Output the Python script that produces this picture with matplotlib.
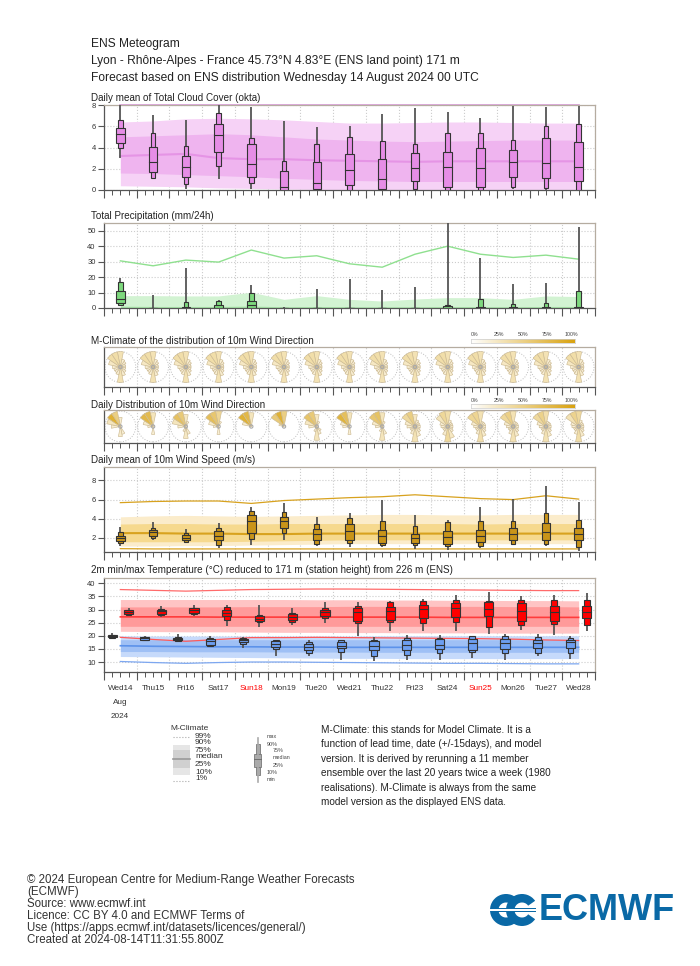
import numpy as np
import matplotlib.pyplot as plt
from matplotlib.patches import Rectangle, Polygon, Circle, Wedge
from matplotlib.colors import to_rgb

plt.rcParams['font.family'] = ['Liberation Sans', 'DejaVu Sans']

# ------------------ DATA ------------------
day_labels = ['Wed14', 'Thu15', 'Fri16', 'Sat17', 'Sun18', 'Mon19', 'Tue20', 'Wed21',
              'Thu22', 'Fri23', 'Sat24', 'Sun25', 'Mon26', 'Tue27', 'Wed28']

# total cloud cover (okta), ENS distribution per day
cc_max = [8.0, 7.06, 6.59, 8.0, 7.78, 6.52, 5.96, 6.02, 7.12, 7.69, 7.37, 6.81, 7.9, 7.78, 7.9]
cc_p90 = [6.59, 5.33, 4.17, 7.28, 4.86, 2.73, 4.3, 5.02, 4.64, 4.3, 5.4, 5.33, 4.7, 6.02, 6.21]
cc_p75 = [5.8, 4.0, 3.2, 6.21, 4.3, 1.82, 2.67, 3.36, 2.89, 3.51, 3.58, 3.92, 3.76, 4.86, 4.55]
cc_med = [5.24, 2.67, 2.13, 5.18, 2.42, 0.31, 0.69, 1.85, 1.07, 2.1, 2.13, 2.07, 2.6, 2.5, 2.13]
cc_p25 = [4.39, 1.66, 1.25, 3.58, 1.25, 0.0, 0.07, 0.47, 0.1, 0.85, 0.25, 0.25, 1.19, 1.16, 0.85]
cc_p10 = [3.92, 1.16, 0.53, 2.26, 0.63, 0.0, 0.0, 0.0, 0.0, 0.06, 0.0, 0.0, 0.31, 0.22, 0.0]
cc_min = [2.98, 1.1, 0.1, 1.0, 0.1, 0.0, 0.0, 0.0, 0.0, 0.0, 0.0, 0.0, 0.05, 0.0, 0.0]
# cloud cover M-climate
cc_c99 = [8.0] * 15
cc_c90 = [6.4, 6.5, 6.7, 6.75, 6.7, 6.6, 6.45, 6.3, 6.3, 6.35, 6.4, 6.4, 6.35, 6.3, 6.3]
cc_c75 = [5.0, 5.1, 5.2, 5.3, 5.2, 5.0, 4.8, 4.7, 4.6, 4.55, 4.6, 4.65, 4.7, 4.7, 4.7]
cc_c50 = [3.2, 3.3, 3.4, 3.0, 2.9, 2.9, 2.8, 2.75, 2.7, 2.65, 2.7, 2.7, 2.7, 2.7, 2.7]
cc_c25 = [1.6, 1.55, 1.45, 1.35, 1.25, 1.1, 1.0, 0.9, 0.85, 0.8, 0.8, 0.8, 0.8, 0.8, 0.8]
cc_c10 = [0.4, 0.35, 0.3, 0.2, 0.15, 0.1, 0.05, 0.0, 0.0, 0.0, 0.0, 0.0, 0.0, 0.0, 0.0]

# total precipitation (mm/24h)
tp_max = [19.7, 8.4, 26.2, 5.2, 15.0, 0.9, 12.3, 18.8, 11.7, 13.8, 60.0, 32.3, 15.8, 16.2, 52.4]
tp_p90 = [16.5, 0.3, 4.1, 4.5, 9.5, 0.2, 0.2, 0.2, 0.2, 0.3, 2.0, 5.6, 2.8, 3.5, 11.0]
tp_p75 = [11.0, 0.1, 0.6, 1.8, 4.5, 0.05, 0.05, 0.05, 0.05, 0.1, 1.0, 0.6, 0.6, 0.6, 0.8]
tp_med = [5.8, 0.0, 0.1, 0.3, 2.2, 0.0, 0.0, 0.0, 0.0, 0.0, 0.2, 0.0, 0.0, 0.0, 0.1]
tp_p25 = [3.0, 0.0, 0.0, 0.0, 0.2, 0.0, 0.0, 0.0, 0.0, 0.0, 0.0, 0.0, 0.0, 0.0, 0.0]
tp_p10 = [2.0, 0.0, 0.0, 0.0, 0.0, 0.0, 0.0, 0.0, 0.0, 0.0, 0.0, 0.0, 0.0, 0.0, 0.0]
tp_min = [1.3, 0.0, 0.0, 0.0, 0.0, 0.0, 0.0, 0.0, 0.0, 0.0, 0.0, 0.0, 0.0, 0.0, 0.0]
tp_c99 = [30.5, 27.3, 31.0, 29.7, 37.5, 32.3, 33.8, 28.6, 26.4, 34.8, 40.0, 34.8, 32.7, 34.2, 31.6]
tp_c90 = [8.0, 8.0, 7.8, 7.8, 10.2, 5.6, 8.0, 5.6, 4.5, 5.8, 6.7, 6.7, 5.6, 7.8, 7.4]
tp_c75 = [1.2, 1.0, 1.0, 1.0, 1.3, 0.8, 1.0, 0.8, 0.7, 0.8, 0.9, 0.9, 0.8, 1.0, 1.0]

# 10m wind direction frequencies, 16 sectors from N clockwise
clim_rose = [0.12, 0.04, 0.03, 0.02, 0.02, 0.02, 0.03, 0.05, 0.12, 0.04, 0.03, 0.03, 0.04, 0.08, 0.15, 0.15]
daily_rose = [
    [0.05, 0, 0, 0, 0, 0, 0, 0.04, 0.06, 0, 0, 0, 0.05, 0.10, 0.45, 0.25],
    [0.10, 0, 0, 0, 0, 0, 0, 0, 0.04, 0, 0, 0, 0.02, 0.06, 0.40, 0.38],
    [0.08, 0.02, 0, 0, 0, 0, 0, 0.04, 0.08, 0.02, 0, 0, 0.04, 0.10, 0.34, 0.28],
    [0.20, 0.02, 0, 0, 0, 0, 0, 0, 0.04, 0, 0, 0, 0.02, 0.06, 0.36, 0.30],
    [0.10, 0, 0, 0, 0, 0, 0, 0, 0, 0, 0, 0, 0, 0.05, 0.45, 0.40],
    [0.25, 0, 0, 0, 0, 0, 0, 0, 0, 0, 0, 0, 0, 0.02, 0.28, 0.45],
    [0.08, 0.02, 0, 0, 0, 0, 0.02, 0.04, 0.10, 0.02, 0, 0, 0.04, 0.08, 0.32, 0.28],
    [0.10, 0, 0, 0, 0, 0, 0, 0, 0.04, 0, 0, 0, 0.03, 0.05, 0.43, 0.35],
    [0.10, 0.02, 0, 0, 0, 0, 0, 0.04, 0.10, 0.02, 0, 0, 0.03, 0.06, 0.30, 0.33],
    [0.08, 0.03, 0.02, 0.02, 0.02, 0.02, 0.03, 0.06, 0.12, 0.04, 0.02, 0.02, 0.04, 0.06, 0.18, 0.25],
    [0.15, 0.03, 0.02, 0.02, 0.02, 0.02, 0.03, 0.08, 0.18, 0.05, 0.02, 0.02, 0.03, 0.04, 0.10, 0.19],
    [0.12, 0.02, 0.02, 0.02, 0.02, 0.02, 0.03, 0.06, 0.14, 0.04, 0.02, 0.02, 0.03, 0.05, 0.20, 0.21],
    [0.12, 0.02, 0.02, 0.02, 0.02, 0.02, 0.03, 0.06, 0.12, 0.04, 0.02, 0.02, 0.03, 0.05, 0.19, 0.24],
    [0.14, 0.02, 0.02, 0.02, 0.02, 0.02, 0.03, 0.06, 0.12, 0.04, 0.02, 0.02, 0.03, 0.05, 0.18, 0.23],
    [0.18, 0.03, 0.02, 0.02, 0.02, 0.02, 0.03, 0.06, 0.15, 0.04, 0.02, 0.02, 0.03, 0.04, 0.12, 0.22],
]
cbar_labels = ['0%', '25%', '50%', '75%', '100%']

# 10m wind speed (m/s)
ws_max = [3.09, 3.68, 2.88, 3.51, 5.26, 5.68, 4.21, 4.63, 5.97, 4.39, 3.86, 5.2, 6.07, 7.44, 5.79]
ws_p90 = [2.57, 2.99, 2.53, 3.02, 4.81, 4.74, 3.44, 4.04, 3.76, 3.26, 3.68, 3.76, 3.76, 4.56, 3.86]
ws_p75 = [2.21, 2.81, 2.28, 2.67, 4.39, 4.14, 2.92, 3.41, 2.81, 2.36, 2.71, 2.81, 2.99, 3.51, 3.05]
ws_med = [1.97, 2.57, 2.04, 2.21, 3.76, 3.72, 2.46, 2.71, 2.21, 2.0, 2.14, 2.18, 2.39, 2.64, 2.46]
ws_p25 = [1.68, 2.25, 1.76, 1.76, 2.53, 3.05, 1.83, 1.83, 1.47, 1.47, 1.4, 1.58, 1.76, 1.76, 1.76]
ws_p10 = [1.47, 2.04, 1.54, 1.3, 1.93, 2.53, 1.4, 1.47, 1.23, 1.23, 1.16, 1.19, 1.4, 1.4, 1.05]
ws_min = [1.16, 1.83, 1.47, 0.95, 1.3, 1.83, 1.2, 1.05, 1.05, 0.81, 0.77, 0.98, 1.33, 1.12, 0.63]
ws_c99 = [5.68, 5.8, 5.85, 5.85, 5.6, 5.9, 6.05, 6.2, 6.3, 6.5, 6.3, 6.1, 6.0, 6.4, 6.05]
ws_c90 = [4.2, 4.3, 4.35, 4.3, 4.25, 4.3, 4.35, 4.4, 4.45, 4.45, 4.4, 4.4, 4.45, 4.45, 4.45]
ws_c75 = [3.45, 3.5, 3.5, 3.45, 3.45, 3.5, 3.5, 3.5, 3.5, 3.5, 3.5, 3.45, 3.5, 3.5, 3.5]
ws_c50 = [2.5, 2.5, 2.45, 2.45, 2.4, 2.4, 2.45, 2.45, 2.45, 2.45, 2.45, 2.45, 2.45, 2.45, 2.45]
ws_c25 = [1.6, 1.6, 1.6, 1.6, 1.65, 1.7, 1.75, 1.8, 1.8, 1.8, 1.8, 1.8, 1.8, 1.8, 1.8]
ws_c10 = [1.15, 1.15, 1.2, 1.2, 1.25, 1.3, 1.35, 1.4, 1.4, 1.4, 1.4, 1.4, 1.4, 1.4, 1.4]
ws_c01 = [0.88, 0.85, 0.85, 0.85, 0.85, 0.85, 0.85, 0.85, 0.85, 0.85, 0.85, 0.85, 0.85, 0.85, 0.85]

# 2m max temperature (C)
tx_max = [30.6, 31.2, 31.6, 31.6, 31.6, 30.4, 32.8, 32.8, 33.4, 34.1, 35.7, 36.6, 35.3, 35.7, 36.4]
tx_p90 = [30.0, 30.2, 30.6, 31.0, 28.0, 28.7, 30.6, 31.2, 32.8, 33.2, 33.5, 33.2, 33.5, 33.5, 33.8]
tx_p75 = [29.8, 29.9, 30.4, 29.8, 27.4, 28.3, 30.0, 30.4, 31.0, 31.9, 32.3, 32.8, 32.3, 31.2, 31.2]
tx_med = [28.9, 29.3, 29.8, 28.7, 26.4, 27.2, 28.9, 29.1, 29.3, 30.2, 30.4, 30.2, 29.6, 28.9, 29.1]
tx_p25 = [28.3, 28.4, 28.7, 27.4, 25.5, 26.1, 27.6, 25.7, 25.9, 26.7, 27.2, 27.4, 25.7, 25.5, 26.7]
tx_p10 = [27.8, 28.0, 28.3, 25.9, 25.1, 25.2, 26.7, 24.9, 25.2, 24.9, 25.1, 23.3, 24.2, 24.4, 24.2]
tx_min = [27.4, 27.2, 27.4, 23.6, 23.2, 24.2, 24.9, 20.0, 21.9, 21.9, 21.9, 20.8, 22.3, 20.4, 21.7]
# 2m min temperature (C)
tn_max = [21.1, 19.8, 20.8, 19.8, 19.6, 18.5, 18.2, 18.5, 19.6, 20.4, 20.4, 20.0, 20.8, 20.8, 19.8]
tn_p90 = [20.4, 19.6, 19.6, 19.3, 19.2, 18.2, 17.5, 18.2, 18.5, 19.2, 19.2, 19.8, 19.8, 19.6, 19.2]
tn_p75 = [20.2, 19.4, 19.3, 18.9, 18.9, 17.9, 16.9, 17.5, 17.9, 18.3, 18.8, 18.8, 18.9, 18.5, 18.5]
tn_med = [19.8, 19.1, 18.8, 17.9, 18.3, 17.0, 15.7, 16.2, 16.2, 16.6, 16.6, 17.2, 17.2, 17.2, 17.5]
tn_p25 = [19.4, 18.5, 18.4, 16.6, 17.5, 15.7, 14.5, 15.3, 14.5, 14.7, 15.0, 14.7, 15.0, 15.3, 15.3]
tn_p10 = [19.2, 18.2, 18.0, 16.2, 17.0, 15.0, 13.4, 14.0, 12.4, 12.8, 13.4, 13.7, 13.4, 13.4, 13.4]
tn_min = [18.8, 18.0, 17.7, 15.9, 15.3, 12.2, 12.2, 10.6, 10.2, 10.9, 10.6, 11.5, 10.9, 12.2, 11.3]
# temperature M-climate
tx_c99 = [37.6, 37.3, 37.0, 37.3, 37.6, 37.7, 37.8, 37.8, 37.7, 37.6, 37.5, 37.4, 37.3, 37.2, 37.2]
tx_c90 = [33.8, 33.8, 33.8, 33.8, 33.8, 33.8, 33.7, 33.7, 33.6, 33.6, 33.5, 33.5, 33.4, 33.4, 33.3]
tx_c75 = [31.0, 31.0, 31.0, 31.0, 31.1, 31.1, 31.1, 31.2, 31.2, 31.2, 31.2, 31.2, 31.1, 31.1, 31.0]
tx_c50 = [27.2, 27.2, 27.2, 27.1, 27.1, 27.1, 27.1, 27.1, 27.1, 27.1, 27.0, 27.0, 27.0, 27.0, 27.0]
tx_c25 = [23.6, 23.6, 23.6, 23.6, 23.6, 23.6, 23.6, 23.6, 23.6, 23.6, 23.6, 23.6, 23.6, 23.6, 23.6]
tx_c10 = [21.7, 21.6, 21.5, 21.5, 21.4, 21.3, 21.3, 21.2, 21.2, 21.1, 21.1, 21.1, 21.0, 21.0, 21.0]
tx_c01 = [19.4, 18.6, 17.9, 18.6, 19.3, 19.3, 19.4, 19.3, 19.2, 19.1, 19.0, 18.9, 18.7, 18.4, 18.2]
tn_c90 = [20.0, 19.9, 19.9, 19.9, 19.9, 19.9, 19.9, 19.9, 20.0, 20.0, 20.0, 20.0, 20.0, 20.0, 20.0]
tn_c75 = [18.5, 18.5, 18.5, 18.5, 18.5, 18.5, 18.5, 18.5, 18.5, 18.5, 18.5, 18.5, 18.5, 18.5, 18.5]
tn_c50 = [16.2, 16.0, 15.9, 15.8, 15.8, 15.7, 15.7, 15.6, 15.6, 15.6, 15.6, 15.6, 15.6, 15.6, 15.6]
tn_c25 = [14.0, 14.0, 13.9, 13.9, 13.9, 13.8, 13.8, 13.8, 13.7, 13.7, 13.7, 13.7, 13.7, 13.7, 13.7]
tn_c10 = [12.1, 12.0, 11.9, 11.8, 11.7, 11.6, 11.5, 11.4, 11.4, 11.3, 11.3, 11.3, 11.3, 11.3, 11.3]
tn_c01 = [10.2, 9.8, 9.5, 9.8, 10.0, 10.0, 9.9, 9.8, 9.7, 9.6, 9.5, 9.5, 9.4, 9.3, 9.3]

header = ['ENS Meteogram',
          'Lyon - Rhône-Alpes - France 45.73°N 4.83°E (ENS land point) 171 m',
          'Forecast based on ENS distribution Wednesday 14 August 2024 00 UTC']
mclim_text = ['M-Climate: this stands for Model Climate. It is a',
              'function of lead time, date (+/-15days), and model',
              'version. It is derived by rerunning a 11 member',
              'ensemble over the last 20 years twice a week (1980',
              'realisations). M-Climate is always from the same',
              'model version as the displayed ENS data.']
footer = ['© 2024 European Centre for Medium-Range Weather Forecasts',
          '(ECMWF)',
          'Source: www.ecmwf.int',
          'Licence: CC BY 4.0 and ECMWF Terms of',
          'Use (https://apps.ecmwf.int/datasets/licences/general/)',
          'Created at 2024-08-14T11:31:55.800Z']

# ------------------ FIGURE ------------------
W, H = 700, 966
fig = plt.figure(figsize=(W / 100, H / 100), dpi=100)

# overlay in pixel coordinates for texts, legend, logo
ov = fig.add_axes([0, 0, 1, 1])
ov.set_xlim(0, W)
ov.set_ylim(H, 0)
ov.axis('off')

n = len(day_labels)
noon = np.arange(n) + 0.5


def px_axes(l, t, r, b):
    return fig.add_axes([l / W, 1 - b / H, (r - l) / W, (b - t) / H])


def style(ax, ylim, yticks=None):
    ax.set_xlim(0, 15)
    ax.set_ylim(*ylim)
    ax.set_xticks(np.arange(0, 16))
    ax.set_xticks(np.arange(0, 15.01, 0.25), minor=True)
    ax.tick_params(axis='x', which='major', length=6, width=0.8, color='#555555', labelbottom=False)
    ax.tick_params(axis='x', which='minor', length=3.5, width=0.7, color='#555555')
    ax.grid(axis='x', which='major', color='#cccccc', ls=':', lw=0.8)
    if yticks is None:
        ax.set_yticks([])
    else:
        ax.set_yticks(yticks)
        ax.tick_params(axis='y', length=4, width=0.8, color='#555555', labelsize=5.5,
                       labelcolor='#333333', pad=2)
        ax.grid(axis='y', color='#cccccc', ls=':', lw=0.8)
    ax.set_axisbelow(True)
    for s in ['top', 'right']:
        ax.spines[s].set_color('#b5aca0')
    for s in ['left', 'bottom']:
        ax.spines[s].set_color('#555555')
    for s in ax.spines.values():
        s.set_linewidth(0.9)


def boxes(ax, xs, mn, p10, p25, med, p75, p90, mx, fc, wi=0.26, wo=0.14):
    for i, x in enumerate(xs):
        ax.plot([x, x], [mn[i], mx[i]], color='#555555', lw=1.3, zorder=3, solid_capstyle='butt')
        ax.add_patch(Rectangle((x - wo / 2, p10[i]), wo, p90[i] - p10[i], fc=fc, ec='#333333', lw=0.8, zorder=4))
        ax.add_patch(Rectangle((x - wi / 2, p25[i]), wi, p75[i] - p25[i], fc=fc, ec='#333333', lw=0.8, zorder=5))
        ax.plot([x - wi / 2, x + wi / 2], [med[i], med[i]], color='#333333', lw=0.8, zorder=6)


def panel_title(y, txt):
    ov.text(91, y, txt, fontsize=7.15, color='#222222', va='center', ha='left')


# header
for i, line in enumerate(header):
    ov.text(91, 44 + i * 17, line, fontsize=8.65, color='#222222', va='center', ha='left')

# ---- cloud cover ----
ax1 = px_axes(104, 105, 595, 190)
style(ax1, (0, 8), [0, 2, 4, 6, 8])
ax1.fill_between(noon, cc_c10, cc_c90, color='#f6d2f6', lw=0, zorder=1)
ax1.fill_between(noon, cc_c25, cc_c75, color='#efb4ef', lw=0, zorder=1)
ax1.plot(noon, cc_c50, color='#e594e5', lw=1.5, zorder=2)
ax1.plot(noon, cc_c99, color='#d99ad9', lw=1.2, zorder=2, clip_on=False)
boxes(ax1, noon, cc_min, cc_p10, cc_p25, cc_med, cc_p75, cc_p90, cc_max, '#e68de6')
panel_title(98, 'Daily mean of Total Cloud Cover (okta)')

# ---- precipitation ----
ax2 = px_axes(104, 223, 595, 308)
style(ax2, (0, 55), [0, 10, 20, 30, 40, 50])
ax2.fill_between(noon, 0, tp_c90, color='#d2f3d2', lw=0, zorder=1)
ax2.fill_between(noon, 0, tp_c75, color='#a9e8a9', lw=0, zorder=1)
ax2.plot(noon, tp_c99, color='#8fe08f', lw=1.0, zorder=2)
boxes(ax2, noon, tp_min, tp_p10, tp_p25, tp_med, tp_p75, tp_p90, tp_max, '#7ed97e')
panel_title(216, 'Total Precipitation (mm/24h)')

# ---- wind roses ----
gold = np.array(to_rgb('#d9a20f'))


def rose_color(f):
    t = min(1.0, 1.6 * f + 0.12)
    return tuple(1 - t * (1 - gold))


def draw_roses(ax, freqs_per_day, R):
    for i, x in enumerate(noon):
        ax.add_patch(Circle((x, 0), R, fill=False, ec='#bdbdbd', ls=':', lw=0.7, zorder=2))
        fr = freqs_per_day[i]
        for k, f in enumerate(fr):
            if f <= 0:
                continue
            r = R * min(1.0, f / 0.12) ** 0.6
            a = np.radians(np.linspace(k * 22.5 - 11.25, k * 22.5 + 11.25, 9))
            pts = [(x, 0)] + [(x + r * np.sin(t), r * np.cos(t)) for t in a]
            ax.add_patch(Polygon(pts, closed=True, fc=rose_color(f), ec='#cdbb94', lw=0.45, zorder=3))
        ax.add_patch(Circle((x, 0), 0.05, fill=False, ec='#aaaaaa', lw=0.8, zorder=4))


def colorbar(l, t, r, b, ytxt):
    cax = px_axes(l, t, r, b)
    grad = np.linspace(0, 1, 256)
    cols = np.array([1 - g * (1 - gold) for g in grad])[None, :, :]
    cax.imshow(cols, aspect='auto', extent=(0, 1, 0, 1))
    cax.set_xticks([])
    cax.set_yticks([])
    for s in cax.spines.values():
        s.set_color('#cccccc')
        s.set_linewidth(0.5)
    for j, lab in enumerate(cbar_labels):
        ov.text(l + 4 + j * (r - l - 8) / 4, ytxt, lab, fontsize=3.8, color='#444444', ha='center', va='center')


ax3 = px_axes(104, 347, 595, 387)
hh = (40 / 2) / (491 / 15)
style(ax3, (-hh, hh))
draw_roses(ax3, [clim_rose] * n, 0.47)
panel_title(341, 'M-Climate of the distribution of 10m Wind Direction')
colorbar(471, 339, 575, 343, 335)

ax4 = px_axes(104, 410, 595, 443)
hh = (33 / 2) / (491 / 15)
style(ax4, (-hh, hh))
draw_roses(ax4, daily_rose, 0.47)
panel_title(405, 'Daily Distribution of 10m Wind Direction')
colorbar(471, 404, 575, 408, 400)

# ---- wind speed ----
ax5 = px_axes(104, 467, 595, 552)
style(ax5, (0.53, 9.4), [2, 4, 6, 8])
ax5.fill_between(noon, ws_c10, ws_c90, color='#fbeccb', lw=0, zorder=1)
ax5.fill_between(noon, ws_c25, ws_c75, color='#f6d98e', lw=0, zorder=1)
ax5.plot(noon, ws_c50, color='#d8a21e', lw=1.5, zorder=2)
ax5.plot(noon, ws_c99, color='#d8a21e', lw=0.9, zorder=2)
ax5.plot(noon, ws_c01, color='#d8a21e', lw=0.9, zorder=2)
boxes(ax5, noon, ws_min, ws_p10, ws_p25, ws_med, ws_p75, ws_p90, ws_max, '#c99419')
panel_title(460, 'Daily mean of 10m Wind Speed (m/s)')

# ---- temperature ----
ax6 = px_axes(104, 578, 595, 672)
style(ax6, (6.2, 42), [10, 15, 20, 25, 30, 35, 40])
ax6.fill_between(noon, tx_c10, tx_c90, color='#ffc4c4', lw=0, zorder=1)
ax6.fill_between(noon, tx_c25, tx_c75, color='#ff9a9a', lw=0, zorder=1)
ax6.plot(noon, tx_c50, color='#ff3b3b', lw=1.2, zorder=2)
ax6.plot(noon, tx_c99, color='#ff6a6a', lw=0.9, zorder=2)
ax6.fill_between(noon, tn_c10, tn_c90, color='#c6dafb', lw=0, zorder=1)
ax6.fill_between(noon, tn_c25, tn_c75, color='#9fc0f5', lw=0, zorder=1)
ax6.plot(noon, tn_c50, color='#5c92ea', lw=1.2, zorder=2)
ax6.plot(noon, tn_c01, color='#7da7f0', lw=0.9, zorder=2)
ax6.plot(noon, tx_c01, color='#ff5a5a', lw=0.9, zorder=2)
boxes(ax6, np.arange(n) + 0.75, tx_min, tx_p10, tx_p25, tx_med, tx_p75, tx_p90, tx_max, '#ff0000',
      wi=0.28, wo=0.18)
boxes(ax6, np.arange(n) + 0.25, tn_min, tn_p10, tn_p25, tn_med, tn_p75, tn_p90, tn_max, '#6d9ef0',
      wi=0.28, wo=0.18)
panel_title(570, '2m min/max Temperature (°C) reduced to 171 m (station height) from 226 m (ENS)')

for i, lab in enumerate(day_labels):
    col = '#ff0000' if lab.startswith('Sun') else '#333333'
    ov.text(104 + (i + 0.5) * 491 / 15, 689, lab, fontsize=5.9, color=col, ha='center', va='center')
ov.text(120, 703, 'Aug', fontsize=5.9, color='#333333', ha='center', va='center')
ov.text(120, 717, '2024', fontsize=5.9, color='#333333', ha='center', va='center')

# ---- legend ----
ov.text(170, 729, 'M-Climate', fontsize=6.0, color='#333333', ha='left', va='center')
ov.plot([173, 190], [737, 737], color='#aaaaaa', ls=':', lw=0.8)
ov.plot([173, 190], [780.5, 780.5], color='#aaaaaa', ls=':', lw=0.8)
ov.add_patch(Rectangle((173, 745), 17, 30, fc='#e6e6e6', ec='none'))
ov.add_patch(Rectangle((173, 750), 17, 17.7, fc='#d0d0d0', ec='none'))
ov.plot([173, 190], [759.3, 759.3], color='#999999', lw=1.2)
for lab, y in zip(['99%', '90%', '75%', 'median', '25%', '10%', '1%'],
                  [736, 743, 750, 757, 765, 772, 779]):
    ov.text(195, y, lab, fontsize=6.0, color='#333333', ha='left', va='center')

bx = 257.7
ov.plot([bx, bx], [738, 782], color='#aaaaaa', lw=1.2)
ov.add_patch(Rectangle((bx - 2, 744.3), 4, 30.7, fc='#aaaaaa', ec='#777777', lw=0.6))
ov.add_patch(Rectangle((bx - 3.5, 754), 7, 12.7, fc='#aaaaaa', ec='#777777', lw=0.6))
ov.plot([bx - 3.5, bx + 3.5], [759.3, 759.3], color='#666666', lw=0.6)
for lab, x, y in zip(['max', '90%', '75%', 'median', '25%', '10%', 'min'],
                     [267, 267, 272.5, 272.5, 272.5, 267, 267],
                     [736, 744, 750.5, 757.5, 765.5, 772.3, 779.5]):
    ov.text(x, y, lab, fontsize=3.9, color='#444444', ha='left', va='center')

for i, line in enumerate(mclim_text):
    ov.text(321, 730 + i * 14.4, line, fontsize=7.2, color='#222222', ha='left', va='center')

# ---- footer ----
for i, line in enumerate(footer):
    ov.text(27, 880.5 + i * 11.9, line, fontsize=8.3, color='#333333', ha='left', va='center')

# ECMWF logo
blue = '#0a69a6'
ov.add_patch(Wedge((506, 910), 16, 35, 325, width=8.5, fc=blue, ec='none'))
ov.add_patch(Wedge((522, 910), 16, 35, 325, width=8.5, fc=blue, ec='none'))
ov.add_patch(Rectangle((498, 908.2), 38, 3.6, fc=blue, ec='none'))
ov.add_patch(Rectangle((490, 909.2), 46, 1.6, fc='white', ec='none'))
ov.text(539, 911, 'ECMWF', fontsize=26, fontweight='bold', color=blue, ha='left', va='center')

fig.savefig('out.png', dpi=100)
